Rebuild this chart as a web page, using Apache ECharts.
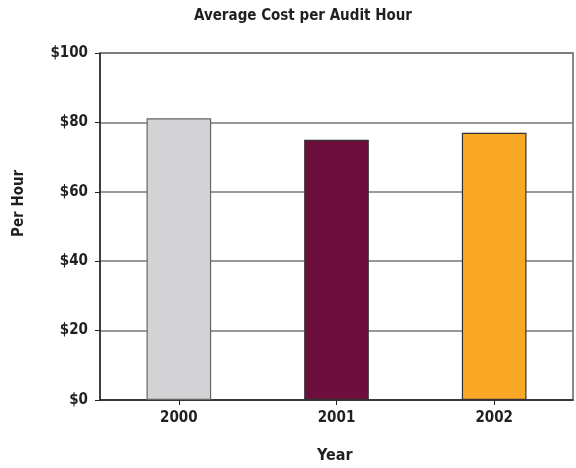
<!DOCTYPE html>
<html>
<head>
<meta charset="utf-8">
<script src="https://cdn.jsdelivr.net/npm/echarts@6/dist/echarts.min.js"></script>
<style>html,body{margin:0;padding:0;background:#fff}#chart{width:576px;height:468px}</style>
</head>
<body>
<div id="chart"></div>
<script>
const years = ['2000', '2001', '2002'];
const costPerHour = [81.2, 75, 77];
const barColors = ['#d3d3d5', '#6e0e3d', '#f9a826'];
const barBorders = ['#666666', '#333333', '#333333'];
const yTicks = [0, 20, 40, 60, 80, 100];

const font = 'DejaVu Sans Condensed';
const ink = '#231f20';
const chart = echarts.init(document.getElementById('chart'), null, { renderer: 'canvas' });
chart.setOption({
  animation: false,
  backgroundColor: '#ffffff',
  title: {
    text: 'Average Cost per Audit Hour',
    left: 298, top: 4, textAlign: 'center',
    textStyle: { fontFamily: font, fontWeight: 'bold', fontSize: 15, color: ink }
  },
  graphic: [
    { type: 'text', left: 317, top: 448,
      style: { text: 'Year', fontFamily: font, fontWeight: 'bold', fontSize: 16, fill: ink } },
    { type: 'text', x: 12, y: 237, rotation: Math.PI / 2,
      style: { text: 'Per Hour', fontFamily: font, fontWeight: 'bold', fontSize: 15, fill: ink } }
  ],
  grid: { left: 100, right: 3, top: 53, bottom: 68, show: true, borderColor: '#222', borderWidth: 1 },
  xAxis: {
    type: 'category', data: years,
    axisLine: { lineStyle: { color: '#222', width: 1.5 } },
    axisTick: { show: true, alignWithLabel: true, length: 5, lineStyle: { color: '#222' } },
    axisLabel: { fontFamily: font, fontWeight: 'bold', fontSize: 15, color: ink, margin: 11 }
  },
  yAxis: [{
    type: 'value', min: yTicks[0], max: yTicks[yTicks.length - 1], interval: 20,
    axisLine: { show: true, lineStyle: { color: '#222', width: 1.5 } },
    axisTick: { show: true, length: 5, lineStyle: { color: '#222' } },
    axisLabel: { fontFamily: font, fontWeight: 'bold', fontSize: 15, color: ink, margin: 12,
      formatter: v => '$' + v },
    splitLine: { lineStyle: { color: '#777', width: 1.5 } }
  }, {
    type: 'value', position: 'right', min: yTicks[0], max: yTicks[yTicks.length - 1], interval: 20,
    axisLine: { show: true, lineStyle: { color: '#888', width: 2 } },
    axisTick: { show: false }, axisLabel: { show: false }, splitLine: { show: false }
  }],
  series: [{
    type: 'bar',
    barWidth: '41%',
    data: costPerHour.map((v, i) => ({
      value: v,
      itemStyle: { color: barColors[i], borderColor: barBorders[i], borderWidth: 1.2 }
    }))
  }]
});
</script>
</body>
</html>
